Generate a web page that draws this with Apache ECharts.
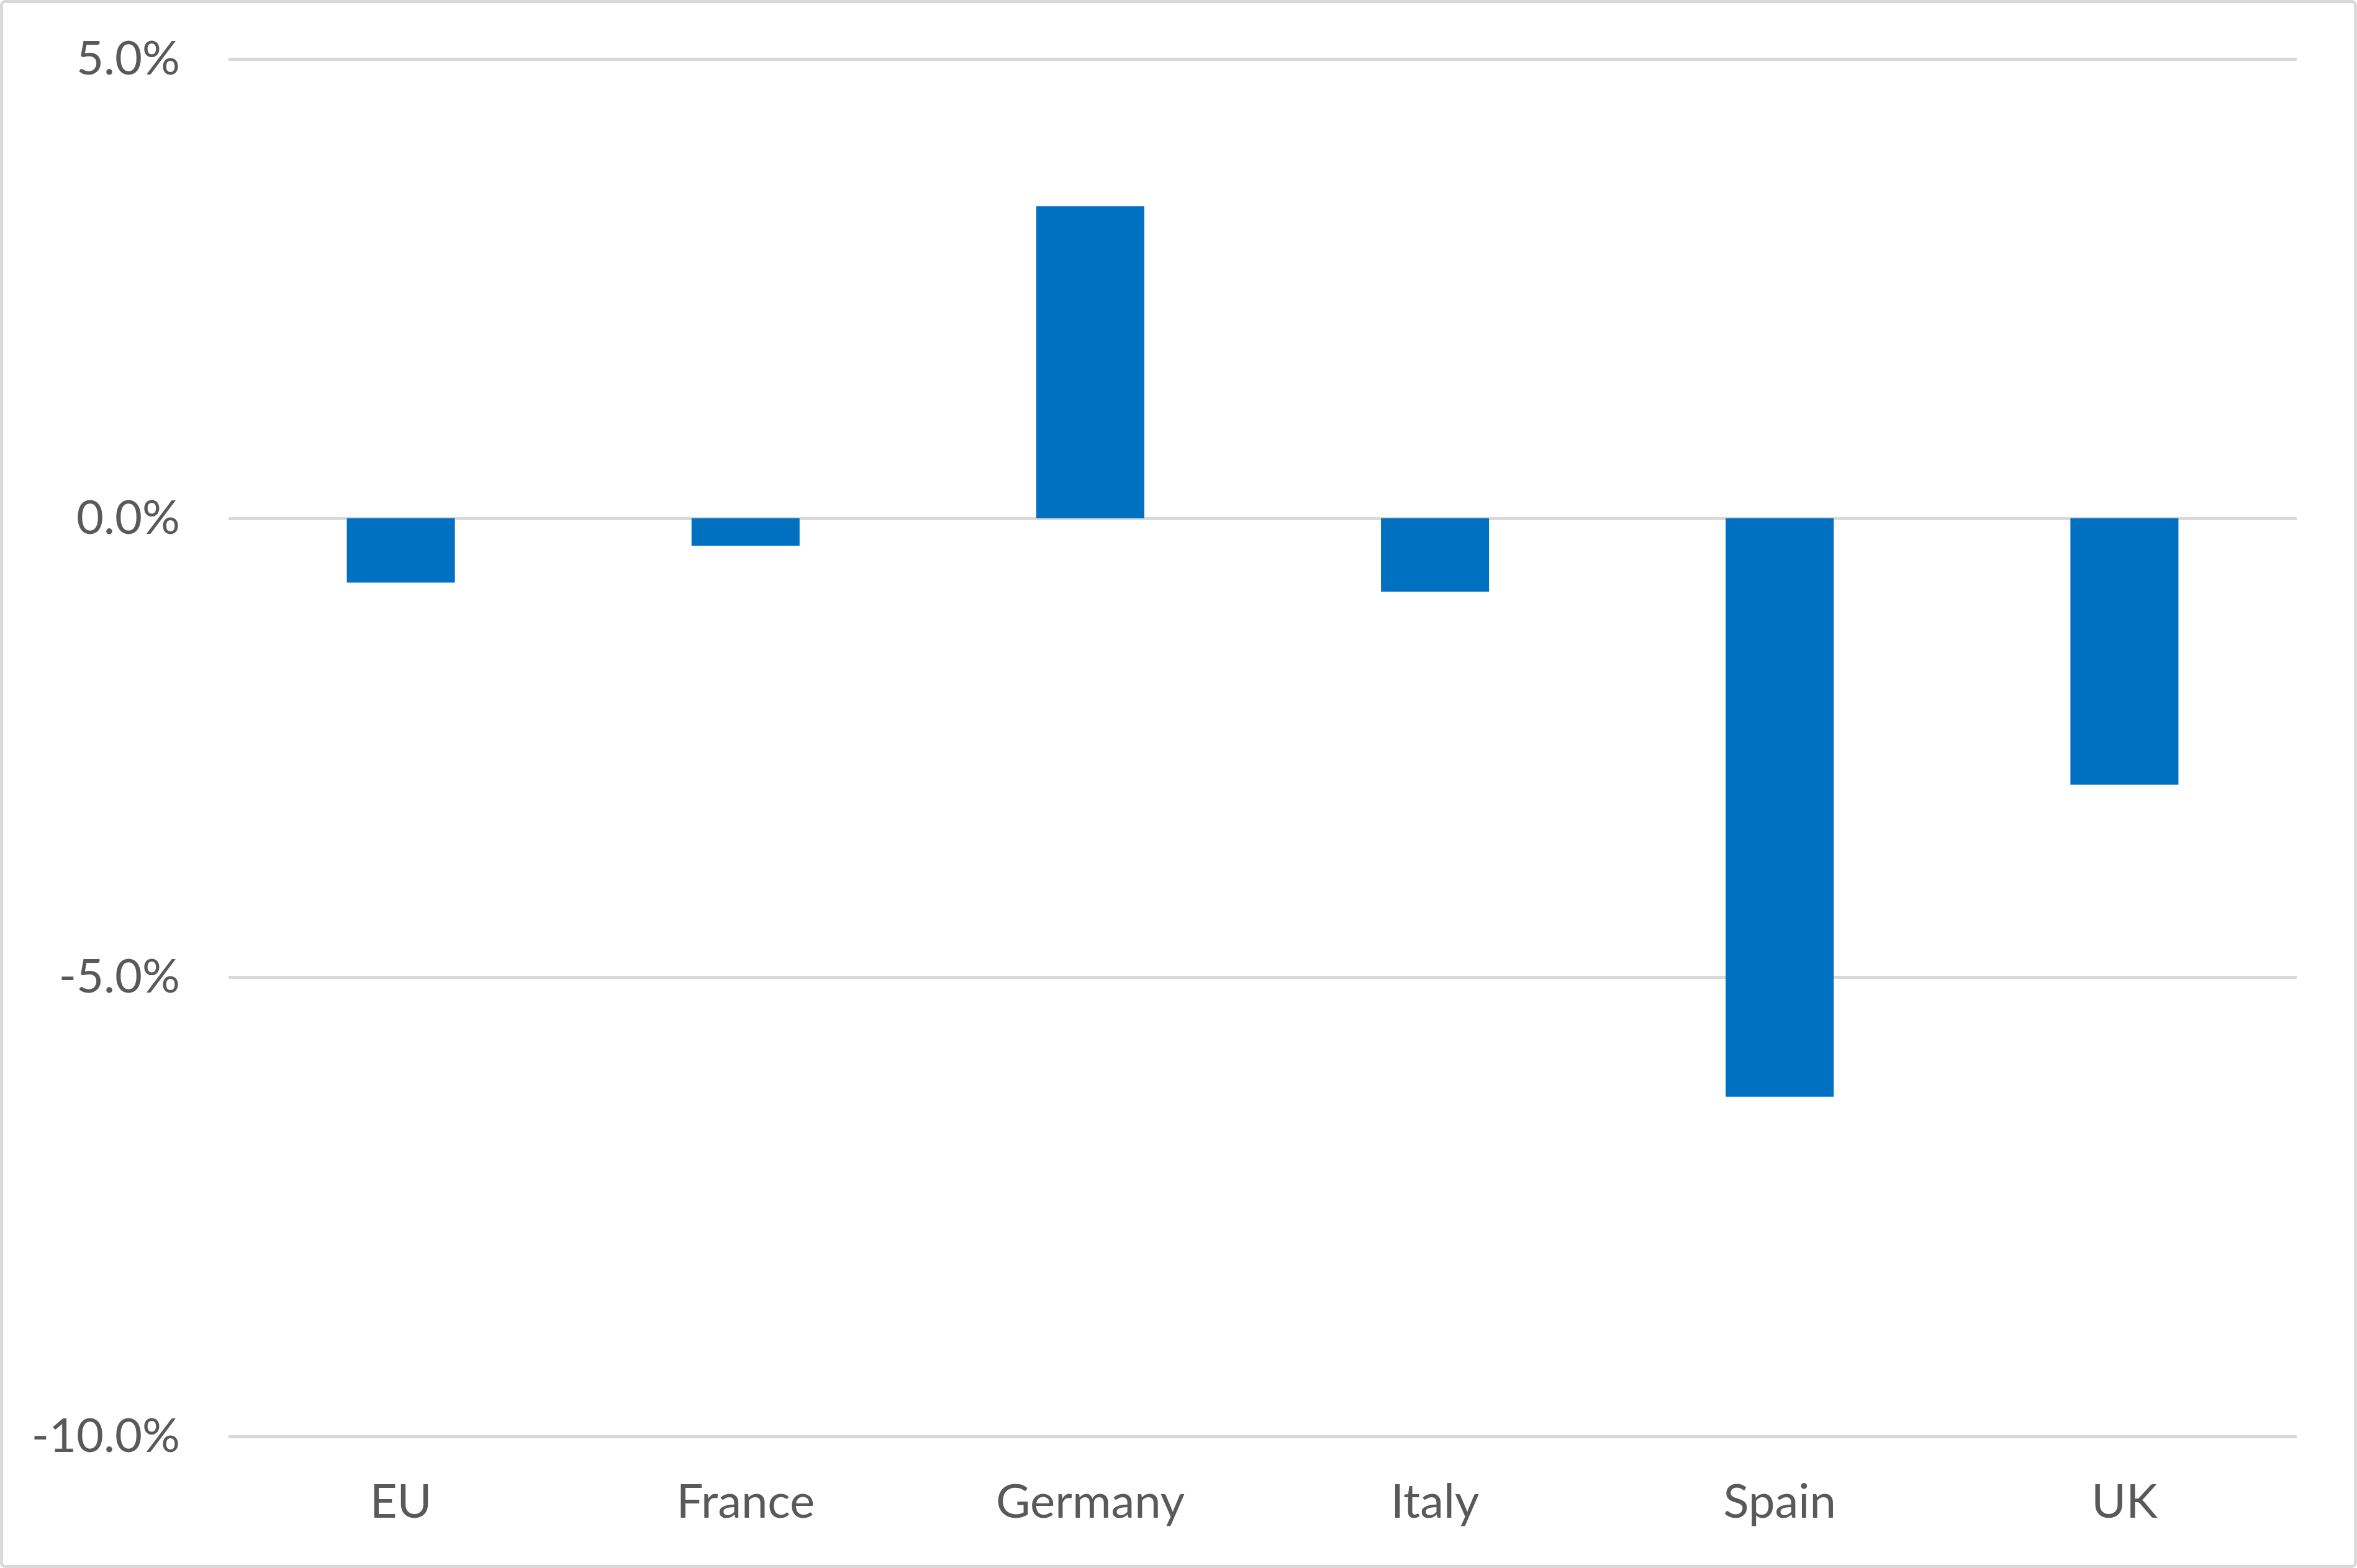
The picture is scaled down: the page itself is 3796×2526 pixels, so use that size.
<!DOCTYPE html>
<html>
<head>
<meta charset="utf-8">
<script src="https://cdn.jsdelivr.net/npm/echarts@6/dist/echarts.min.js"></script>
<style>
html,body{margin:0;padding:0;background:#fff;}
#chart{width:3796px;height:2526px;}
</style>
</head>
<body>
<div id="chart"></div>
<script>
const categories = ['EU', 'France', 'Germany', 'Italy', 'Spain', 'UK'];
const values = [-0.7, -0.3, 3.4, -0.8, -6.3, -2.9];
const yTicks = { min: -10, max: 5, interval: 5 };

const chart = echarts.init(document.getElementById('chart'), null, { renderer: 'canvas' });
const font = 'Lato, "Open Sans", sans-serif';
chart.setOption({
  backgroundColor: '#ffffff',
  animation: false,
  graphic: [{
    type: 'rect',
    shape: { x: 2.5, y: 2.5, width: 3791, height: 2521, r: 6 },
    style: { fill: 'none', stroke: '#d9d9d9', lineWidth: 5 },
    silent: true
  }],
  grid: { left: 368, right: 97, top: 95.5, bottom: 212, containLabel: false },
  xAxis: {
    type: 'category',
    data: categories,
    axisLine: { show: false },
    axisTick: { show: false },
    axisLabel: { color: '#595959', fontSize: 76, fontFamily: font, margin: 68 },
    splitLine: { show: false }
  },
  yAxis: {
    type: 'value',
    min: yTicks.min, max: yTicks.max, interval: yTicks.interval,
    axisLine: { show: false },
    axisTick: { show: false },
    axisLabel: {
      color: '#595959', fontSize: 76, fontFamily: font, margin: 78,
      formatter: v => v.toFixed(1) + '%'
    },
    splitLine: { show: true, lineStyle: { color: '#d9d9d9', width: 5 } }
  },
  series: [{
    type: 'bar',
    data: values,
    barWidth: 174,
    itemStyle: { color: '#0070c0' }
  }]
});
</script>
</body>
</html>
